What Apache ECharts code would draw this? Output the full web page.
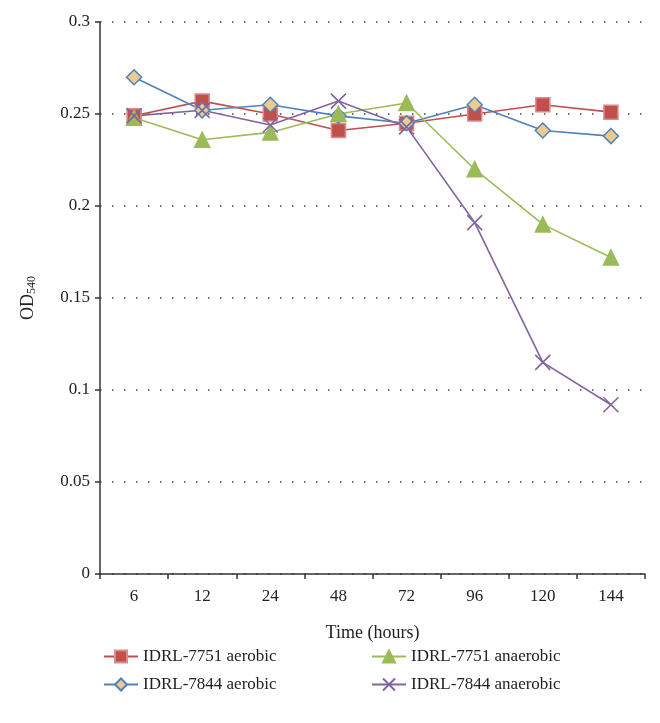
<!DOCTYPE html>
<html>
<head>
<meta charset="utf-8">
<script src="https://cdn.jsdelivr.net/npm/echarts@6/dist/echarts.min.js"></script>
<style>
  html, body { margin: 0; padding: 0; background: #fff; }
  #main { width: 660px; height: 723px; }
</style>
</head>
<body>
<div id="main"></div>
<script>
// time points (hours)
var categories = ['6', '12', '24', '48', '72', '96', '120', '144'];
// OD540 readings
var aerobic7751 = [0.249, 0.257, 0.250, 0.241, 0.245, 0.250, 0.255, 0.251];
var aerobic7844 = [0.270, 0.252, 0.255, 0.249, 0.245, 0.255, 0.241, 0.238];
var anaerobic7751 = [0.248, 0.236, 0.240, 0.250, 0.256, 0.220, 0.190, 0.172];
var anaerobic7844 = [0.249, 0.252, 0.244, 0.257, 0.243, 0.191, 0.115, 0.092];
var yTicks = [0, 0.05, 0.1, 0.15, 0.2, 0.25, 0.3];

var serif = '"Liberation Serif", "DejaVu Serif", serif';
var crossPath = 'path://M0,0L10,10M10,0L0,10';

var myChart = echarts.init(document.getElementById('main'));

function lineSeries(name, data, color, symbol, size, fill, border) {
	return {
		name: name,
		type: 'line',
		data: data,
		symbol: symbol,
		symbolSize: size,
		lineStyle: { color: color, width: 1.6 },
		itemStyle: { color: fill, borderColor: border, borderWidth: symbol == crossPath ? 1.6 : 1.5 },
		emphasis: { disabled: true },
		z: 3
	};
}

myChart.setOption({
	animation: false,
	textStyle: { fontFamily: serif },
	grid: { left: 100, right: 15, top: 22, bottom: 149, containLabel: false },
	legend: [{
		orient: 'vertical',
		left: 98,
		top: 643,
		itemWidth: 34,
		itemHeight: 15,
		itemGap: 11,
		textStyle: { fontFamily: serif, fontSize: 17, color: '#222' },
		data: ['IDRL-7751 aerobic', 'IDRL-7844 aerobic']
	}, {
		orient: 'vertical',
		left: 366,
		top: 643,
		itemWidth: 34,
		itemHeight: 15,
		itemGap: 11,
		textStyle: { fontFamily: serif, fontSize: 17, color: '#222' },
		data: ['IDRL-7751 anaerobic', 'IDRL-7844 anaerobic']
	}],
	xAxis: {
		type: 'category',
		data: categories,
		boundaryGap: true,
		name: 'Time (hours)',
		nameLocation: 'middle',
		nameGap: 50,
		nameTextStyle: { fontFamily: serif, fontSize: 18, color: '#222' },
		axisLine: { lineStyle: { color: '#333', width: 1.5 } },
		axisTick: { show: true, length: 5, inside: false, lineStyle: { color: '#333', width: 1.5 } },
		axisLabel: { fontFamily: serif, fontSize: 17, color: '#222', margin: 14 },
		splitLine: { show: false }
	},
	yAxis: {
		type: 'value',
		min: 0,
		max: 0.3,
		interval: 0.05,
		name: 'OD{sub|540}',
		nameLocation: 'middle',
		nameGap: 62,
		nameRotate: 90,
		nameTextStyle: {
			fontFamily: serif, fontSize: 18, color: '#222',
			rich: { sub: { fontFamily: serif, fontSize: 12, color: '#222', verticalAlign: 'bottom', padding: [8, 0, 0, 0] } }
		},
		axisLine: { show: true, lineStyle: { color: '#333', width: 1.5 } },
		axisTick: { show: true, length: 5, lineStyle: { color: '#333', width: 1.5 } },
		axisLabel: {
			fontFamily: serif, fontSize: 17, color: '#222', margin: 10,
			formatter: function (v) {
				for (var i = 0; i < yTicks.length; i++) {
					if (Math.abs(yTicks[i] - v) < 1e-9) return String(yTicks[i]);
				}
				return '';
			}
		},
		splitLine: { show: true, lineStyle: { color: '#444', width: 1.5, type: [1.5, 10.5] } }
	},
	series: [
		lineSeries('IDRL-7751 aerobic', aerobic7751, '#C0504D', 'rect', 14, '#C0504D', '#D98C8A'),
		lineSeries('IDRL-7844 aerobic', aerobic7844, '#4F81BD', 'diamond', 15, '#EBCB8E', '#4F81BD'),
		lineSeries('IDRL-7751 anaerobic', anaerobic7751, '#9BBB59', 'triangle', 15, '#9BBB59', '#9BBB59'),
		lineSeries('IDRL-7844 anaerobic', anaerobic7844, '#8064A2', crossPath, 15, 'rgba(0,0,0,0)', '#8064A2')
	]
});
</script>
</body>
</html>
